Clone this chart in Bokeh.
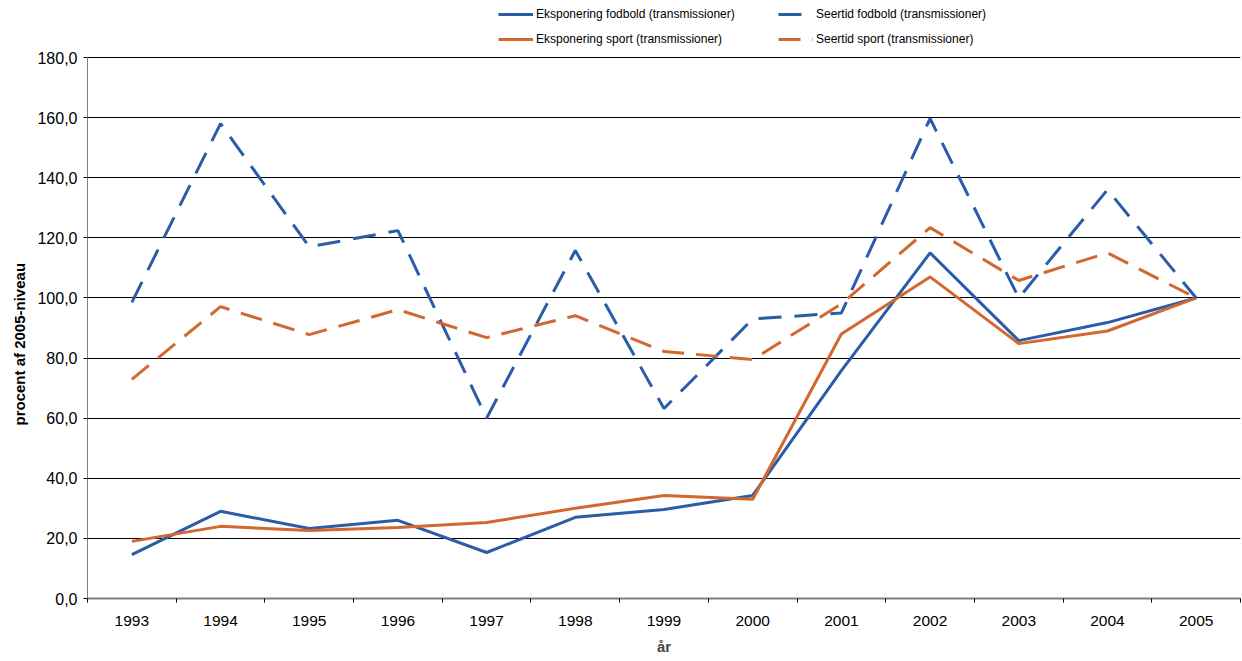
from bokeh.plotting import figure
from bokeh.models import FixedTicker, Legend, LegendItem, Range1d, LinearAxis, Title
from bokeh.embed import file_html
from bokeh.resources import INLINE

years = ["1993", "1994", "1995", "1996", "1997", "1998", "1999",
         "2000", "2001", "2002", "2003", "2004", "2005"]
eksp_fodbold = [14.6, 29.0, 23.3, 26.0, 15.3, 27.0, 29.6, 34.3, 75.8, 115.0, 85.8, 91.8, 100.0]
eksp_sport = [19.0, 24.0, 22.6, 23.6, 25.3, 30.0, 34.3, 33.0, 88.0, 107.0, 84.8, 89.0, 100.0]
seer_fodbold = [98.5, 158.0, 117.0, 122.4, 60.0, 115.8, 63.2, 93.0, 95.0, 159.7, 100.0, 136.0, 100.0]
seer_sport = [72.9, 97.1, 87.8, 96.1, 86.8, 94.1, 82.2, 79.5, 98.0, 123.4, 105.8, 115.0, 100.0]
y_ticks = [0, 20, 40, 60, 80, 100, 120, 140, 160, 180]

labels = ["Eksponering fodbold (transmissioner)", "Seertid fodbold (transmissioner)",
          "Eksponering sport (transmissioner)", "Seertid sport (transmissioner)"]

BLUE = "#2B5CA8"
ORANGE = "#D2672F"
FONT = "Liberation Sans"

xs = list(range(len(years)))

# frame extends above the 180 line to leave room for the legend inside it
p = figure(width=1242, height=661, output_backend="svg", toolbar_location=None,
           x_range=Range1d(-0.5, len(years) - 0.5), y_range=Range1d(0, 180 * 598 / 541),
           min_border_left=87, min_border_right=2, min_border_top=0, min_border_bottom=63,
           y_axis_location=None)
p.outline_line_color = None
p.background_fill_color = "white"

r1 = p.line(xs, eksp_fodbold, line_color=BLUE, line_width=3)
r2 = p.line(xs, eksp_sport, line_color=ORANGE, line_width=3)
r3 = p.line(xs, seer_fodbold, line_color=BLUE, line_width=3, line_dash="23 13")
r4 = p.line(xs, seer_sport, line_color=ORANGE, line_width=3, line_dash="22 12")

# x axis
p.xaxis.ticker = FixedTicker(ticks=xs, minor_ticks=[i - 0.5 for i in range(len(years) + 1)])
p.xaxis.major_label_overrides = {i: y for i, y in enumerate(years)}
p.xaxis.major_tick_line_color = None
p.xaxis.minor_tick_line_color = "#000000"
p.xaxis.minor_tick_in = 0
p.xaxis.minor_tick_out = 4
p.xaxis.axis_line_color = "#808080"
p.xaxis.axis_line_width = 2
p.xaxis.major_label_standoff = 11
p.xaxis.major_label_text_font = FONT
p.xaxis.major_label_text_font_size = "15.5px"
p.xaxis.major_label_text_color = "#000000"
p.xaxis.axis_label = "år"
p.xaxis.axis_label_text_font = FONT
p.xaxis.axis_label_text_font_style = "bold"
p.xaxis.axis_label_text_font_size = "15px"
p.xaxis.axis_label_standoff = 9
p.xgrid.grid_line_color = None

# y axis (ticks and labels)
yax = LinearAxis(ticker=FixedTicker(ticks=y_ticks), bounds=(0, 180))
yax.major_label_overrides = {t: f"{t},0" for t in y_ticks}
yax.minor_tick_line_color = None
yax.major_tick_in = 0
yax.major_tick_out = 4
yax.major_tick_line_color = "#000000"
yax.axis_line_color = "#808080"
yax.axis_line_width = 1
yax.major_label_standoff = 6
yax.major_label_text_font = FONT
yax.major_label_text_font_size = "16px"
yax.major_label_text_color = "#000000"
p.add_layout(yax, "left")

# y axis title, placed along the 0-180 span
ytitle = Title(text="procent af 2005-niveau", align="left", offset=173,
               text_font=FONT, text_font_style="bold", text_font_size="15px",
               text_color="#000000", standoff=14)
p.add_layout(ytitle, "left")

p.ygrid.ticker = FixedTicker(ticks=y_ticks)
p.ygrid.grid_line_color = "#000000"
p.ygrid.grid_line_width = 1

legend = Legend(items=[LegendItem(label=labels[0], renderers=[r1]),
                       LegendItem(label=labels[1], renderers=[r3]),
                       LegendItem(label=labels[2], renderers=[r2]),
                       LegendItem(label=labels[3], renderers=[r4])],
                ncols=2, location=(411, 552), orientation="horizontal",
                glyph_width=35, glyph_height=14, label_height=14, label_width=231,
                label_standoff=3, spacing=11, padding=0, margin=0,
                border_line_color=None, background_fill_alpha=0,
                label_text_font=FONT, label_text_font_size="12px",
                label_text_color="#000000")
p.add_layout(legend, "center")

open("out.html", "w").write(file_html(p, INLINE))
